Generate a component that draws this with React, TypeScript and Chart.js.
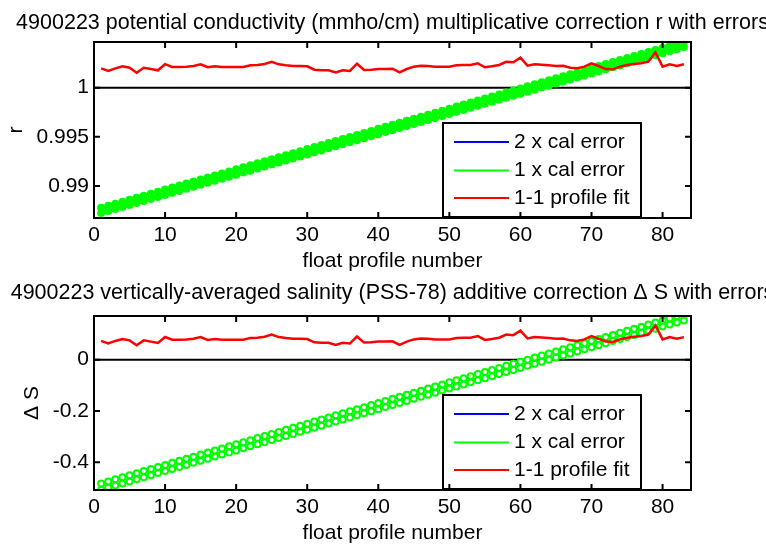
import React, { useEffect, useRef } from 'react';
import { Chart, registerables } from 'chart.js';

Chart.register(...registerables);

// ---------------- data ----------------
const profileNumbers = [
  1, 2, 3, 4, 5, 6, 7, 8, 9, 10, 11, 12, 13, 14, 15, 16, 17, 18, 19, 20,
  21, 22, 23, 24, 25, 26, 27, 28, 29, 30, 31, 32, 33, 34, 35, 36, 37, 38, 39, 40,
  41, 42, 43, 44, 45, 46, 47, 48, 49, 50, 51, 52, 53, 54, 55, 56, 57, 58, 59, 60,
  61, 62, 63, 64, 65, 66, 67, 68, 69, 70, 71, 72, 73, 74, 75, 76, 77, 78, 79, 80,
  81, 82, 83,
];

// potential conductivity multiplicative correction r
const condFit = [
  0.98751, 0.98771, 0.98792, 0.98812, 0.98833, 0.98854, 0.98874, 0.98895, 0.98915, 0.98936,
  0.98957, 0.98977, 0.98998, 0.99018, 0.99039, 0.9906, 0.9908, 0.99101, 0.99121, 0.99142,
  0.99163, 0.99183, 0.99204, 0.99224, 0.99245, 0.99266, 0.99286, 0.99307, 0.99327, 0.99348,
  0.99369, 0.99389, 0.9941, 0.9943, 0.99451, 0.99472, 0.99492, 0.99513, 0.99533, 0.99554,
  0.99575, 0.99595, 0.99616, 0.99636, 0.99657, 0.99678, 0.99698, 0.99719, 0.99739, 0.9976,
  0.99781, 0.99801, 0.99822, 0.99842, 0.99863, 0.99884, 0.99904, 0.99925, 0.99945, 0.99966,
  0.99987, 1.00007, 1.00028, 1.00048, 1.00069, 1.0009, 1.0011, 1.00131, 1.00151, 1.00172,
  1.00193, 1.00213, 1.00234, 1.00254, 1.00275, 1.00296, 1.00316, 1.00337, 1.00357, 1.00378,
  1.00399, 1.00419, 1.0044,
];
const condCalErr = 0.00027;
const condProfileFit = [
  1.00197, 1.0017, 1.00197, 1.00218, 1.00203, 1.00153, 1.00203, 1.0019, 1.00177, 1.00239,
  1.00211, 1.00211, 1.00214, 1.00221, 1.00238, 1.00208, 1.00218, 1.00211, 1.00211, 1.00211,
  1.00211, 1.00228, 1.00231, 1.00241, 1.00264, 1.00238, 1.00228, 1.00221, 1.00221, 1.00218,
  1.00183, 1.00177, 1.00177, 1.00155, 1.00177, 1.0017, 1.00244, 1.0018, 1.00183, 1.0019,
  1.0019, 1.00193, 1.00155, 1.0019, 1.00214, 1.00224, 1.00221, 1.00214, 1.00214, 1.00214,
  1.00228, 1.00231, 1.00231, 1.00248, 1.00208, 1.00218, 1.00231, 1.00264, 1.00258, 1.00305,
  1.00224, 1.00238, 1.00234, 1.00228, 1.00221, 1.00224, 1.00203, 1.00197, 1.00214, 1.00248,
  1.00221, 1.0019, 1.00187, 1.00214, 1.00231, 1.00241, 1.00248, 1.00264, 1.0036, 1.00214,
  1.00238, 1.00221, 1.00238,
];

// vertically-averaged salinity additive correction ΔS
const salFit = [
  -0.4946, -0.4865, -0.4785, -0.4704, -0.4624, -0.4544, -0.4463, -0.4383, -0.4302, -0.4222,
  -0.4142, -0.4061, -0.3981, -0.39, -0.382, -0.374, -0.3659, -0.3579, -0.3498, -0.3418,
  -0.3338, -0.3257, -0.3177, -0.3096, -0.3016, -0.2936, -0.2855, -0.2775, -0.2694, -0.2614,
  -0.2534, -0.2453, -0.2373, -0.2292, -0.2212, -0.2132, -0.2051, -0.1971, -0.189, -0.181,
  -0.173, -0.1649, -0.1569, -0.1488, -0.1408, -0.1328, -0.1247, -0.1167, -0.1086, -0.1006,
  -0.0926, -0.0845, -0.0765, -0.0684, -0.0604, -0.0524, -0.0443, -0.0363, -0.0282, -0.0202,
  -0.0122, -0.0041, 0.0039, 0.012, 0.02, 0.028, 0.0361, 0.0441, 0.0522, 0.0602,
  0.0682, 0.0763, 0.0843, 0.0924, 0.1004, 0.1084, 0.1165, 0.1245, 0.1326, 0.1406,
  0.1486, 0.1567, 0.1647,
];
const salCalErr = 0.012;
const salProfileFit = [
  0.0728, 0.0627, 0.0728, 0.0803, 0.0751, 0.0563, 0.0751, 0.0702, 0.0653, 0.0882,
  0.0777, 0.0777, 0.0788, 0.0815, 0.0878, 0.0766, 0.0803, 0.0777, 0.0777, 0.0777,
  0.0777, 0.0841, 0.0852, 0.089, 0.0976, 0.0878, 0.0841, 0.0815, 0.0815, 0.0803,
  0.0676, 0.0653, 0.0653, 0.0571, 0.0653, 0.0627, 0.0901, 0.0664, 0.0676, 0.0702,
  0.0702, 0.0713, 0.0571, 0.0702, 0.0788, 0.0826, 0.0815, 0.0788, 0.0788, 0.0788,
  0.0841, 0.0852, 0.0852, 0.0916, 0.0766, 0.0803, 0.0852, 0.0976, 0.0954, 0.1126,
  0.0826, 0.0878, 0.0863, 0.0841, 0.0815, 0.0826, 0.0751, 0.0728, 0.0788, 0.0916,
  0.0815, 0.0702, 0.0691, 0.0788, 0.0852, 0.089, 0.0916, 0.0976, 0.1329, 0.0788,
  0.0878, 0.0815, 0.0878,
];

const xTickValues = [0, 10, 20, 30, 40, 50, 60, 70, 80];
const xTickLabels = ['0', '10', '20', '30', '40', '50', '60', '70', '80'];
const condYTickValues = [0.99, 0.995, 1];
const condYTickLabels = ['0.99', '0.995', '1'];
const salYTickValues = [-0.4, -0.2, 0];
const salYTickLabels = ['-0.4', '-0.2', '0'];

const legendLabels = ['2 x cal error', '1 x cal error', '1-1 profile fit'];
const legendColors = ['#0000ff', '#00ff00', '#ff0000'];

const FONT = "'Liberation Sans', Arial, Helvetica, sans-serif";
const TEXT = '#000000';
const FS = 21;
const TITLE_FS = 21.5;

type PanelCfg = {
  title: string;
  titleBaseline: number;
  yLabel: string;
  yLabelPad: number;
  xLabelPad: number;
  fit: number[];
  err: number;
  markerFill: string;
  profile: number[];
  refLevel: number;
  yMin: number;
  yMax: number;
  yTicks: number[];
  yTickLabels: string[];
  height: number;
  plotBottom: number;
};

function pts(vals: number[], off: number) {
  return vals.map((v, i) => ({ x: profileNumbers[i], y: v + off }));
}

function makePlugin(cfg: PanelCfg) {
  return {
    id: 'matlabFrame',
    afterDatasetsDraw(chart: any) {
      const { ctx, chartArea: a, scales } = chart;
      ctx.save();
      // legend box
      const lx = a.left + 349;
      const lw = 198;
      const lb = a.bottom - 1;
      const lh = 94;
      const lt = lb - lh;
      ctx.fillStyle = '#ffffff';
      ctx.fillRect(lx, lt, lw, lh);
      ctx.strokeStyle = '#000';
      ctx.lineWidth = 2;
      ctx.strokeRect(lx, lt, lw, lh);
      const rows = [19, 47.5, 75];
      ctx.font = `${FS}px ${FONT}`;
      ctx.textBaseline = 'middle';
      ctx.textAlign = 'left';
      legendLabels.forEach((lab, i) => {
        const y = lt + rows[i];
        ctx.strokeStyle = legendColors[i];
        ctx.lineWidth = 2;
        ctx.beginPath();
        ctx.moveTo(lx + 11, y);
        ctx.lineTo(lx + 66, y);
        ctx.stroke();
        ctx.fillStyle = TEXT;
        ctx.fillText(lab, lx + 71, y);
      });

      // axes box and inward ticks
      ctx.strokeStyle = '#000';
      ctx.lineWidth = 2;
      const tl = 6;
      ctx.beginPath();
      for (const t of scales.x.ticks) {
        const px = scales.x.getPixelForValue(t.value);
        ctx.moveTo(px, a.bottom);
        ctx.lineTo(px, a.bottom - tl);
        ctx.moveTo(px, a.top);
        ctx.lineTo(px, a.top + tl);
      }
      for (const t of scales.y.ticks) {
        const py = scales.y.getPixelForValue(t.value);
        ctx.moveTo(a.left, py);
        ctx.lineTo(a.left + tl, py);
        ctx.moveTo(a.right, py);
        ctx.lineTo(a.right - tl, py);
      }
      ctx.stroke();
      ctx.strokeRect(a.left, a.top, a.right - a.left, a.bottom - a.top);

      // title
      ctx.fillStyle = TEXT;
      ctx.font = `${TITLE_FS}px ${FONT}`;
      ctx.textAlign = 'center';
      ctx.textBaseline = 'alphabetic';
      ctx.fillText(cfg.title, (a.left + a.right) / 2, cfg.titleBaseline);
      ctx.restore();
    },
  };
}

function buildChart(canvas: HTMLCanvasElement, cfg: PanelCfg) {
  const green = '#00ff00';
  const blue = '#0000ff';
  const greenBand = (off: number) => ({
    label: '1 x cal error',
    data: pts(cfg.fit, off),
    borderColor: green,
    borderWidth: 1.5,
    pointRadius: 3,
    pointBorderWidth: 2,
    pointBorderColor: green,
    pointBackgroundColor: cfg.markerFill,
  });
  const blueBand = (off: number) => ({
    label: '2 x cal error',
    data: pts(cfg.fit, off),
    borderColor: blue,
    borderWidth: 1,
    pointRadius: 1,
    pointBackgroundColor: blue,
    pointBorderColor: blue,
  });
  const datasets: any[] = [
    {
      label: '1-1 profile fit',
      data: pts(cfg.profile, 0),
      borderColor: '#ff0000',
      borderWidth: 2.5,
      pointRadius: 0,
    },
    greenBand(cfg.err),
    greenBand(-cfg.err),
    blueBand(cfg.err),
    blueBand(-cfg.err),
    {
      label: 'reference',
      data: [
        { x: 0, y: cfg.refLevel },
        { x: 84, y: cfg.refLevel },
      ],
      borderColor: '#000000',
      borderWidth: 2,
      pointRadius: 0,
    },
  ];

  const font = { family: FONT, size: FS };
  return new Chart(canvas, {
    type: 'line',
    data: { datasets },
    plugins: [makePlugin(cfg)],
    options: {
      responsive: false,
      animation: false,
      devicePixelRatio: 1,
      events: [],
      layout: { padding: { top: 42, right: 75, left: 0, bottom: 0 } },
      plugins: {
        legend: { display: false },
        tooltip: { enabled: false },
        title: { display: false },
      },
      scales: {
        x: {
          type: 'linear',
          min: 0,
          max: 84,
          afterBuildTicks: (s: any) => {
            s.ticks = xTickValues.map((v) => ({ value: v }));
          },
          afterFit: (s: any) => {
            s.height = cfg.height - cfg.plotBottom;
          },
          grid: { display: false, drawTicks: false, tickLength: 0 },
          border: { display: false },
          ticks: {
            padding: 5,
            color: TEXT,
            font,
            maxRotation: 0,
            autoSkip: false,
            callback: (_v: any, i: number) => xTickLabels[i],
          },
          title: {
            display: true,
            text: 'float profile number',
            color: TEXT,
            font,
            padding: { top: 0, bottom: cfg.xLabelPad },
          },
        },
        y: {
          type: 'linear',
          min: cfg.yMin,
          max: cfg.yMax,
          afterBuildTicks: (s: any) => {
            s.ticks = cfg.yTicks.map((v) => ({ value: v }));
          },
          afterFit: (s: any) => {
            s.width = 94;
          },
          grid: { display: false, drawTicks: false, tickLength: 0 },
          border: { display: false },
          ticks: {
            padding: 5,
            color: TEXT,
            font,
            autoSkip: false,
            callback: (_v: any, i: number) => cfg.yTickLabels[i],
          },
          title: {
            display: true,
            text: cfg.yLabel,
            color: TEXT,
            font,
            padding: { top: cfg.yLabelPad, bottom: 0 },
          },
        },
      },
    } as any,
  });
}

const topCfg: PanelCfg = {
  title: '4900223 potential conductivity (mmho/cm) multiplicative correction r with errors',
  titleBaseline: 29,
  yLabel: 'r',
  yLabelPad: 4,
  xLabelPad: 0,
  fit: condFit,
  err: condCalErr,
  markerFill: '#00ff00',
  profile: condProfileFit,
  refLevel: 1,
  yMin: 0.98674,
  yMax: 1.00465,
  yTicks: condYTickValues,
  yTickLabels: condYTickLabels,
  height: 274,
  plotBottom: 218,
};

const bottomCfg: PanelCfg = {
  title: '4900223 vertically-averaged salinity (PSS-78) additive correction \u0394 S with errors',
  titleBaseline: 25,
  yLabel: '\u0394 S',
  yLabelPad: 20,
  xLabelPad: 2,
  fit: salFit,
  err: salCalErr,
  markerFill: '#ffffff',
  profile: salProfileFit,
  refLevel: 0,
  yMin: -0.508,
  yMax: 0.17,
  yTicks: salYTickValues,
  yTickLabels: salYTickLabels,
  height: 274,
  plotBottom: 216,
};

export default function App() {
  const topRef = useRef<HTMLCanvasElement | null>(null);
  const botRef = useRef<HTMLCanvasElement | null>(null);

  useEffect(() => {
    const c1 = buildChart(topRef.current as HTMLCanvasElement, topCfg);
    const c2 = buildChart(botRef.current as HTMLCanvasElement, bottomCfg);
    return () => {
      c1.destroy();
      c2.destroy();
    };
  }, []);

  return (
    <div
      style={{
        position: 'absolute',
        left: 0,
        top: 0,
        width: 766,
        height: 548,
        background: '#ffffff',
        overflow: 'hidden',
      }}
    >
      <canvas
        ref={topRef}
        width={766}
        height={274}
        style={{ position: 'absolute', left: 0, top: 0, width: 766, height: 274 }}
      />
      <canvas
        ref={botRef}
        width={766}
        height={274}
        style={{ position: 'absolute', left: 0, top: 274, width: 766, height: 274 }}
      />
    </div>
  );
}
